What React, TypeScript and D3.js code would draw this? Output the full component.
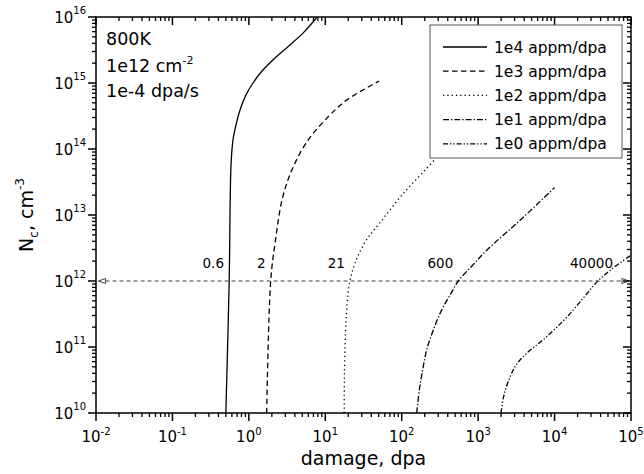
import React, { useEffect } from 'react';
import * as d3 from 'd3';

// tick decades
const xDecades = [-2, -1, 0, 1, 2, 3, 4, 5];
const yDecades = [10, 11, 12, 13, 14, 15, 16];

// series: damage (dpa) vs Nc (cm^-3)
const dmg1e4 = [0.5, 0.553, 0.584, 0.62, 0.679, 0.766, 0.918, 1.133, 1.486, 2.2, 3.45, 5.26, 7.8];
const nc1e4 = [1e10, 1e12, 5.7e13, 1.37e14, 2.31e14, 3.9e14, 6.6e14, 1e15, 1.52e15, 2.4e15, 3.77e15, 5.9e15, 1e16];

const dmg1e3 = [1.71, 1.93, 2.2, 2.77, 3.82, 6.0, 11, 19, 50.5];
const nc1e3 = [1e10, 1e12, 3.7e12, 1.86e13, 5.4e13, 1.38e14, 3.1e14, 5.5e14, 1.07e15];

const dmg1e2 = [17.7, 21, 32.4, 55, 104, 202, 280];
const nc1e2 = [1e10, 1e12, 3.7e12, 8.3e12, 2.1e13, 4.8e13, 7.2e13];

const dmg1e1 = [157, 170, 188, 212, 259, 333, 428, 550, 830, 1305, 3530, 1e4];
const nc1e1 = [1e10, 2.23e10, 4.5e10, 9.0e10, 1.81e11, 3.64e11, 6.1e11, 1e12, 1.69e12, 2.95e12, 8.3e12, 2.6e13];

const dmg1e0 = [1990, 2180, 2610, 3130, 3860, 5220, 7060, 10100, 14500, 22800, 35900, 58000, 97000];
const nc1e0 = [1e10, 1.87e10, 3.5e10, 5.3e10, 7.1e10, 9.7e10, 1.28e11, 1.87e11, 2.85e11, 5.2e11, 9.7e11, 1.57e12, 2.4e12];

const seriesNames = ['1e4 appm/dpa', '1e3 appm/dpa', '1e2 appm/dpa', '1e1 appm/dpa', '1e0 appm/dpa'];

// crossing marks at Nc = 1e12
const crossLabels = ['0.6', '2', '21', '600', '40000'];
const crossDamage = [0.55, 1.93, 21, 550, 35900];
const arrowNc = 1e12;
const arrowFrom = 0.0108;
const arrowTo = 9.4e4;

const dashes = ['none', '5.5,3.5', '1.3,3', '6,2,1.3,2', '5,2,1.3,2,1.3,2'];

const App = () => {
  useEffect(() => {
    document.body.style.margin = '0';
  }, []);

  const W = 644;
  const H = 474;
  const margin = { top: 17, right: 13, bottom: 61, left: 96 };
  const x = d3.scaleLog().domain([1e-2, 1e5]).range([margin.left, W - margin.right]);
  const y = d3.scaleLog().domain([1e10, 1e16]).range([H - margin.bottom, margin.top]);
  const x0 = x.range()[0], x1 = x.range()[1];
  const y0 = y.range()[0], y1 = y.range()[1];

  const series = [
    [dmg1e4, nc1e4],
    [dmg1e3, nc1e3],
    [dmg1e2, nc1e2],
    [dmg1e1, nc1e1],
    [dmg1e0, nc1e0],
  ];

  const line = d3
    .line<[number, number]>()
    .x(d => x(d[0]))
    .y(d => y(d[1]))
    .curve(d3.curveCatmullRom.alpha(0.5));

  const minors = (decs: number[]) => {
    const out: number[] = [];
    decs.slice(0, -1).forEach(e => {
      for (let k = 2; k <= 9; k++) out.push(k * Math.pow(10, e));
    });
    return out;
  };
  const xMinor = minors(xDecades);
  const yMinor = minors(yDecades);

  const font = 'DejaVu Sans, Verdana, sans-serif';
  const ay = y(arrowNc);
  const axL = x(arrowFrom);
  const axR = x(arrowTo);

  const legX = 430, legY = 25, legW = 192, legH = 133;

  return (
    <svg width={W} height={H} style={{ position: 'absolute', left: 0, top: 0, background: '#fff' }} fontFamily={font}>
      <defs>
        <clipPath id="plot">
          <rect x={x0} y={y1} width={x1 - x0} height={y0 - y1} />
        </clipPath>
      </defs>

      {/* arrow line at 1e12 */}
      <line x1={axL} x2={axR} y1={ay} y2={ay} stroke="#444" strokeWidth={1} strokeDasharray="4,3" />
      <path d={`M${axL},${ay} l7,-2.5 l0,5 z`} fill="#fff" stroke="#444" strokeWidth={1} />
      <path d={`M${axR},${ay} l-7,-2.5 l0,5 z`} fill="#fff" stroke="#444" strokeWidth={1} />

      {/* curves */}
      <g clipPath="url(#plot)">
        {series.map((s, i) => (
          <path
            key={i}
            d={line(s[0].map((v, j) => [v, s[1][j]] as [number, number])) || ''}
            fill="none"
            stroke="#000"
            strokeWidth={1.3}
            strokeDasharray={dashes[i]}
          />
        ))}
      </g>

      {/* crossing labels */}
      {crossLabels.map((t, i) => (
        <text
          key={t}
          x={x(crossDamage[i]) + (i === 4 ? 16 : -5)}
          y={ay - 13}
          fontSize={13.5}
          textAnchor="end"
        >
          {t}
        </text>
      ))}

      {/* frame */}
      <rect x={x0} y={y1} width={x1 - x0} height={y0 - y1} fill="none" stroke="#000" strokeWidth={1.5} />

      {/* x ticks */}
      {xDecades.map(e => {
        const px = x(Math.pow(10, e));
        return (
          <g key={'xd' + e}>
            <line x1={px} x2={px} y1={y0} y2={y0 + 8} stroke="#000" strokeWidth={1.5} />
            <line x1={px} x2={px} y1={y1} y2={y1 + 8} stroke="#000" strokeWidth={1.5} />
            <text x={px} y={442} fontSize={15} textAnchor="middle">
              10<tspan dy={-7} fontSize={10}>{e}</tspan>
            </text>
          </g>
        );
      })}
      {xMinor.map((v, i) => (
        <g key={'xm' + i}>
          <line x1={x(v)} x2={x(v)} y1={y0} y2={y0 + 4} stroke="#000" strokeWidth={1.3} />
          <line x1={x(v)} x2={x(v)} y1={y1} y2={y1 + 4} stroke="#000" strokeWidth={1.3} />
        </g>
      ))}

      {/* y ticks */}
      {yDecades.map(e => {
        const py = y(Math.pow(10, e));
        return (
          <g key={'yd' + e}>
            <line x1={x0 - 8} x2={x0} y1={py} y2={py} stroke="#000" strokeWidth={1.5} />
            <line x1={x1 - 8} x2={x1} y1={py} y2={py} stroke="#000" strokeWidth={1.5} />
            <text x={x0 - 10} y={py + 6} fontSize={15} textAnchor="end">
              10<tspan dy={-9} fontSize={10}>{e}</tspan>
            </text>
          </g>
        );
      })}
      {yMinor.map((v, i) => (
        <g key={'ym' + i}>
          <line x1={x0 - 4} x2={x0} y1={y(v)} y2={y(v)} stroke="#000" strokeWidth={1.3} />
          <line x1={x1 - 4} x2={x1} y1={y(v)} y2={y(v)} stroke="#000" strokeWidth={1.3} />
        </g>
      ))}

      {/* axis titles */}
      <text x={(x0 + x1) / 2} y={465} fontSize={19} textAnchor="middle">
        damage, dpa
      </text>
      <text transform={`translate(33,${(y0 + y1) / 2}) rotate(-90)`} fontSize={19} textAnchor="middle">
        N<tspan dy={5} fontSize={12}>c</tspan>
        <tspan dy={-5}>, cm</tspan>
        <tspan dy={-9} fontSize={12}>-3</tspan>
      </text>

      {/* conditions */}
      <g fontSize={17.5}>
        <text x={106} y={45}>800K</text>
        <text x={106} y={72}>
          1e12 cm<tspan dy={-8} fontSize={11}>-2</tspan>
        </text>
        <text x={106} y={97}>1e-4 dpa/s</text>
      </g>

      {/* legend */}
      <rect x={legX} y={legY} width={legW} height={legH} fill="#fff" stroke="#555" strokeWidth={1} />
      {seriesNames.map((n, i) => {
        const ly = legY + 22 + i * 24.2;
        return (
          <g key={n}>
            <line x1={legX + 13} x2={legX + 57} y1={ly} y2={ly} stroke="#000" strokeWidth={1.3} strokeDasharray={dashes[i]} />
            <text x={legX + 64} y={ly + 5.5} fontSize={15.5}>
              {n}
            </text>
          </g>
        );
      })}
    </svg>
  );
};

export default App;
